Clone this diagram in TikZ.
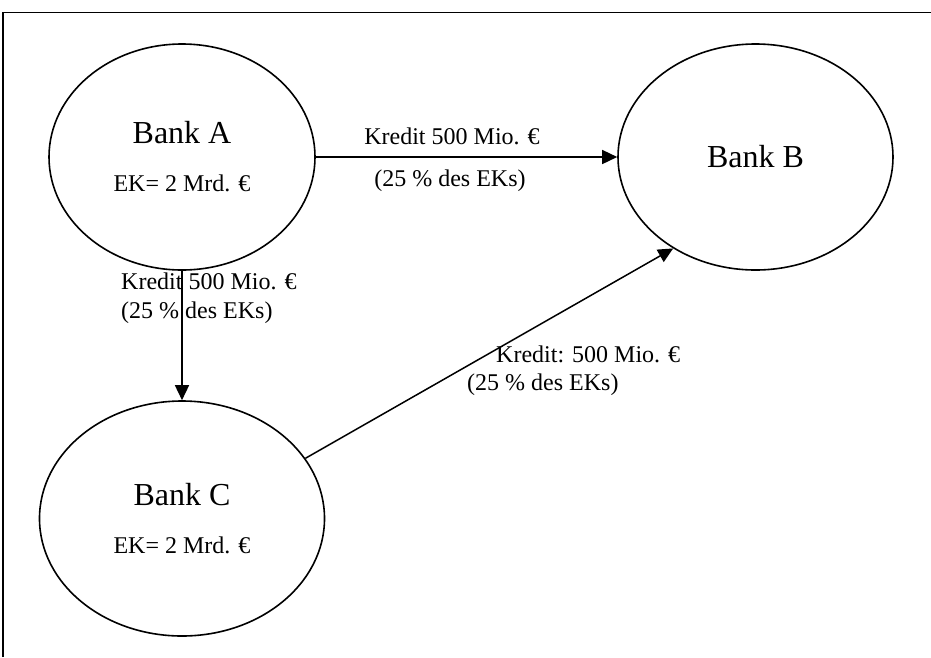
\documentclass[tikz,border=0pt]{standalone}
\usepackage{fontspec}
\setmainfont{Liberation Serif}
\usetikzlibrary{shapes.geometric,arrows.meta,positioning}
\newcommand{\bankfont}{\fontsize{32}{48}\selectfont}
\newcommand{\ekfont}{\fontsize{24}{48}\selectfont}
\newcommand{\lblfont}{\fontsize{24}{29}\selectfont}
\tikzset{
    bank/.style = {draw, ellipse, line width=1.6pt, inner sep=0pt, align=center, font=\ekfont},
    credit/.style = {line width=1.5pt, -{Triangle[length=15pt,width=14pt]}},
    credit-label/.style = {inner sep=0pt, font=\lblfont},
    frame/.style = {line width=1.3pt},
}

\begin{document}
\begin{tikzpicture}[x=1pt,y=-1pt]
\useasboundingbox (0,0) rectangle (931,657);
\draw[frame] (3,657) -- (3,12.3) -- (931,12.3);

\node[bank, minimum width=266pt, minimum height=226pt] (A) at (182,157) {\bankfont Bank A\\\ekfont EK= 2 Mrd. €};
\node[bank, minimum width=275pt, minimum height=226pt] (B) at (755.5,157) {\bankfont Bank B};
\node[bank, minimum width=285pt, minimum height=235pt] (C) at (182,518.5) {\bankfont Bank C\\\ekfont EK= 2 Mrd. €};

\draw[credit] (A) -- (B);
\draw[credit] (A) -- (C);
\draw[credit] (C.26) -- (B.228);

% Beschriftungen der Kredite
\node[credit-label, anchor=base] (ab1) at (452,144) {Kredit 500 Mio. €};
\node[credit-label, anchor=base] (ab2) at (450,186) {(25 \% des EKs)};
\node[credit-label, anchor=base west, align=left] (ac) at (121,318) {Kredit 500 Mio. €\\(25 \% des EKs)};
\node[credit-label, anchor=base west] (cb1) at (496,362) {Kredit: 500 Mio. €};
\node[credit-label, anchor=base west] (cb2) at (467,390) {(25 \% des EKs)};
\end{tikzpicture}
\end{document}
